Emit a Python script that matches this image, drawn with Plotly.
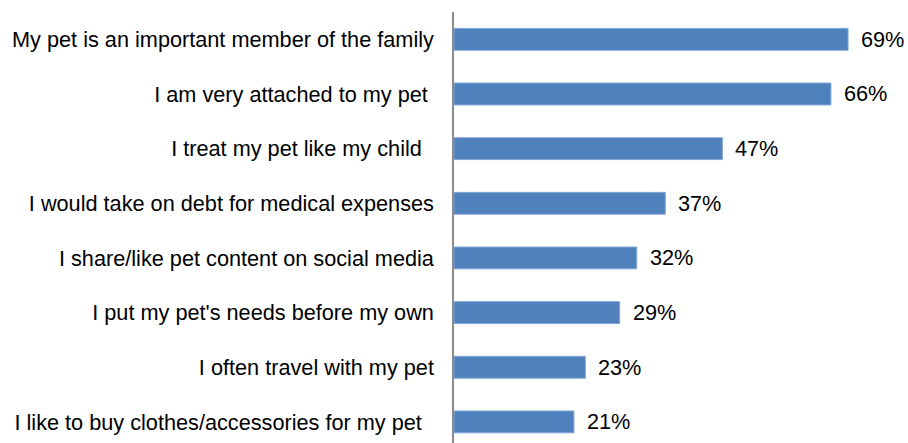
import plotly.graph_objects as go

# Survey statements (top to bottom) and share of respondents agreeing
statements = [
    "My pet is an important member of the family",
    "I am very attached to my pet\u00a0",
    "I treat my pet like my child\u00a0\u00a0",
    "I would take on debt for medical expenses",
    "I share/like pet content on social media",
    "I put my pet's needs before my own",
    "I often travel with my pet",
    "I like to buy clothes/accessories for my pet\u00a0\u00a0",
]
shares = [69, 66, 47, 37, 32, 29, 23, 21]

positions = list(range(len(statements)))
font_family = "Liberation Sans, Arial, sans-serif"
font_size = 21.7

fig = go.Figure(
    go.Bar(
        x=shares,
        y=positions,
        orientation="h",
        width=0.4,
        marker=dict(color="#4F81BD", line=dict(color="#7FA6D6", width=1)),
        hoverinfo="skip",
    )
)

# Percentage labels to the right of each bar
for pos, val in zip(positions, shares):
    fig.add_annotation(
        x=val, y=pos, text=f"{val}%", showarrow=False,
        xanchor="left", yanchor="middle", xshift=11,
        font=dict(family=font_family, size=font_size, color="#000000"),
    )

fig.update_layout(
    width=908, height=443,
    margin=dict(l=454, r=0, t=12, b=0),
    paper_bgcolor="white", plot_bgcolor="white",
    showlegend=False,
    font=dict(family=font_family, size=font_size, color="#000000"),
    xaxis=dict(
        range=[0, 79.5], showgrid=False, zeroline=False,
        showticklabels=False, showline=False, fixedrange=True,
    ),
    yaxis=dict(
        range=[7.386, -0.5], tickmode="array", tickvals=positions,
        ticktext=statements, showgrid=False, zeroline=False,
        showline=True, linecolor="#8C8C8C", linewidth=1.5,
        ticks="", ticklabelstandoff=14, fixedrange=True,
        tickfont=dict(family=font_family, size=font_size, color="#000000"),
    ),
)

fig.write_html("out.html")
